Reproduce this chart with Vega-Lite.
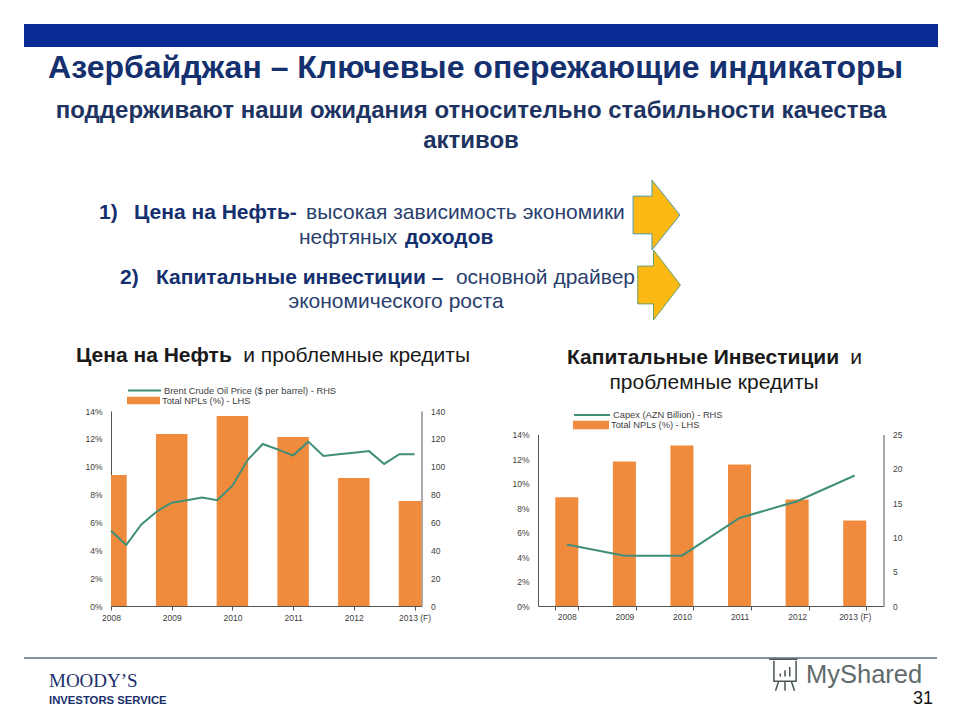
{"$schema":"https://vega.github.io/schema/vega-lite/v6.json","padding":0,"background":"white","bounds":"flush","spacing":0,"config":{"view":{"stroke":null},"font":"Liberation Sans"},"vconcat":[
{"width":960,"height":411,"layer":[
{"data":{"values":[{"label":"bar"}]},"mark":{"type":"rect","color":"#0a2a96"},"encoding":{"x":{"datum":24,"type":"quantitative","scale":{"domain":[0,960]},"axis":null},"x2":{"datum":938},"y":{"datum":24,"type":"quantitative","scale":{"domain":[411,0]},"axis":null},"y2":{"datum":47}}},
{"data":{"values":[{"label":"Азербайджан – Ключевые опережающие индикаторы"}]},"mark":{"type":"text","fontSize":32,"fontWeight":"bold","color":"#14306e"},"encoding":{"x":{"datum":475.5,"type":"quantitative","scale":{"domain":[0,960]},"axis":null},"y":{"datum":68,"type":"quantitative","scale":{"domain":[411,0]},"axis":null},"text":{"field":"label"}}},
{"data":{"values":[{"label":"поддерживают наши ожидания относительно стабильности качества"}]},"mark":{"type":"text","fontSize":24,"fontWeight":"bold","color":"#1d3462"},"encoding":{"x":{"datum":471,"type":"quantitative","scale":{"domain":[0,960]},"axis":null},"y":{"datum":111,"type":"quantitative","scale":{"domain":[411,0]},"axis":null},"text":{"field":"label"}}},
{"data":{"values":[{"label":"активов"}]},"mark":{"type":"text","fontSize":24,"fontWeight":"bold","color":"#1d3462"},"encoding":{"x":{"datum":471,"type":"quantitative","scale":{"domain":[0,960]},"axis":null},"y":{"datum":141,"type":"quantitative","scale":{"domain":[411,0]},"axis":null},"text":{"field":"label"}}},
{"data":{"values":[{"label":"1)"}]},"mark":{"type":"text","fontSize":21,"fontWeight":"bold","color":"#14306e","align":"left"},"encoding":{"x":{"datum":99,"type":"quantitative","scale":{"domain":[0,960]},"axis":null},"y":{"datum":213,"type":"quantitative","scale":{"domain":[411,0]},"axis":null},"text":{"field":"label"}}},
{"data":{"values":[{"label":"Цена на Нефть-"}]},"mark":{"type":"text","fontSize":21,"fontWeight":"bold","color":"#14306e","align":"left"},"encoding":{"x":{"datum":134,"type":"quantitative","scale":{"domain":[0,960]},"axis":null},"y":{"datum":213,"type":"quantitative","scale":{"domain":[411,0]},"axis":null},"text":{"field":"label"}}},
{"data":{"values":[{"label":"высокая зависимость экономики"}]},"mark":{"type":"text","fontSize":21,"color":"#2a3f6e","align":"left"},"encoding":{"x":{"datum":306,"type":"quantitative","scale":{"domain":[0,960]},"axis":null},"y":{"datum":213,"type":"quantitative","scale":{"domain":[411,0]},"axis":null},"text":{"field":"label"}}},
{"data":{"values":[{"label":"нефтяных"}]},"mark":{"type":"text","fontSize":21,"color":"#2a3f6e","align":"left"},"encoding":{"x":{"datum":299,"type":"quantitative","scale":{"domain":[0,960]},"axis":null},"y":{"datum":238,"type":"quantitative","scale":{"domain":[411,0]},"axis":null},"text":{"field":"label"}}},
{"data":{"values":[{"label":"доходов"}]},"mark":{"type":"text","fontSize":21,"fontWeight":"bold","color":"#14306e","align":"left"},"encoding":{"x":{"datum":405,"type":"quantitative","scale":{"domain":[0,960]},"axis":null},"y":{"datum":238,"type":"quantitative","scale":{"domain":[411,0]},"axis":null},"text":{"field":"label"}}},
{"data":{"values":[{"label":"2)"}]},"mark":{"type":"text","fontSize":21,"fontWeight":"bold","color":"#14306e","align":"left"},"encoding":{"x":{"datum":120,"type":"quantitative","scale":{"domain":[0,960]},"axis":null},"y":{"datum":278,"type":"quantitative","scale":{"domain":[411,0]},"axis":null},"text":{"field":"label"}}},
{"data":{"values":[{"label":"Капитальные инвестиции –"}]},"mark":{"type":"text","fontSize":21,"fontWeight":"bold","color":"#14306e","align":"left"},"encoding":{"x":{"datum":156,"type":"quantitative","scale":{"domain":[0,960]},"axis":null},"y":{"datum":278,"type":"quantitative","scale":{"domain":[411,0]},"axis":null},"text":{"field":"label"}}},
{"data":{"values":[{"label":"основной драйвер"}]},"mark":{"type":"text","fontSize":21,"color":"#2a3f6e","align":"right"},"encoding":{"x":{"datum":635,"type":"quantitative","scale":{"domain":[0,960]},"axis":null},"y":{"datum":278,"type":"quantitative","scale":{"domain":[411,0]},"axis":null},"text":{"field":"label"}}},
{"data":{"values":[{"label":"экономического роста"}]},"mark":{"type":"text","fontSize":21,"color":"#2a3f6e"},"encoding":{"x":{"datum":396,"type":"quantitative","scale":{"domain":[0,960]},"axis":null},"y":{"datum":302,"type":"quantitative","scale":{"domain":[411,0]},"axis":null},"text":{"field":"label"}}},
{"data":{"values":[{"label":"arrow 1"}]},"mark":{"type":"point","filled":true,"fill":"#fdb913","fillOpacity":1,"stroke":"#4f9db5","strokeWidth":1,"size":4900,"shape":"M-.67,-.54H-.13V-1L.67,0L-.13,1V.54H-.67Z"},"encoding":{"x":{"datum":656.5,"type":"quantitative","scale":{"domain":[0,960]},"axis":null},"y":{"datum":215,"type":"quantitative","scale":{"domain":[411,0]},"axis":null}}},
{"data":{"values":[{"label":"arrow 2"}]},"mark":{"type":"point","filled":true,"fill":"#fdb913","fillOpacity":1,"stroke":"#6aa06a","strokeWidth":1,"size":4900,"shape":"M-.55,-.54H-.1V-1L.67,0L-.1,1V.54H-.55Z"},"encoding":{"x":{"datum":657,"type":"quantitative","scale":{"domain":[0,960]},"axis":null},"y":{"datum":285,"type":"quantitative","scale":{"domain":[411,0]},"axis":null}}},
{"data":{"values":[{"label":"Цена на Нефть"}]},"mark":{"type":"text","fontSize":21,"fontWeight":"bold","color":"#1a1a1a","align":"left"},"encoding":{"x":{"datum":76,"type":"quantitative","scale":{"domain":[0,960]},"axis":null},"y":{"datum":356,"type":"quantitative","scale":{"domain":[411,0]},"axis":null},"text":{"field":"label"}}},
{"data":{"values":[{"label":"и проблемные кредиты"}]},"mark":{"type":"text","fontSize":21,"color":"#1a1a1a","align":"right"},"encoding":{"x":{"datum":470,"type":"quantitative","scale":{"domain":[0,960]},"axis":null},"y":{"datum":356,"type":"quantitative","scale":{"domain":[411,0]},"axis":null},"text":{"field":"label"}}},
{"data":{"values":[{"label":"Капитальные Инвестиции"}]},"mark":{"type":"text","fontSize":21,"fontWeight":"bold","color":"#1a1a1a","align":"left"},"encoding":{"x":{"datum":567,"type":"quantitative","scale":{"domain":[0,960]},"axis":null},"y":{"datum":358,"type":"quantitative","scale":{"domain":[411,0]},"axis":null},"text":{"field":"label"}}},
{"data":{"values":[{"label":"и"}]},"mark":{"type":"text","fontSize":21,"color":"#1a1a1a","align":"right"},"encoding":{"x":{"datum":862,"type":"quantitative","scale":{"domain":[0,960]},"axis":null},"y":{"datum":358,"type":"quantitative","scale":{"domain":[411,0]},"axis":null},"text":{"field":"label"}}},
{"data":{"values":[{"label":"проблемные кредиты"}]},"mark":{"type":"text","fontSize":21,"color":"#1a1a1a"},"encoding":{"x":{"datum":714,"type":"quantitative","scale":{"domain":[0,960]},"axis":null},"y":{"datum":383,"type":"quantitative","scale":{"domain":[411,0]},"axis":null},"text":{"field":"label"}}}
]},
{"bounds":"flush","spacing":0,"hconcat":[
{"width":111,"height":195,"data":{"values":[]},"mark":"text","encoding":{}},
{"width":310.5,"height":195,"layer":[
{"data":{"values":[{"year":2008,"npl":0.094,"series":"Total NPLs (%) - LHS"},{"year":2009,"npl":0.1234,"series":"Total NPLs (%) - LHS"},{"year":2010,"npl":0.1364,"series":"Total NPLs (%) - LHS"},{"year":2011,"npl":0.1213,"series":"Total NPLs (%) - LHS"},{"year":2012,"npl":0.0919,"series":"Total NPLs (%) - LHS"},{"year":2013,"npl":0.0754,"series":"Total NPLs (%) - LHS"}]},
"mark":{"type":"bar","width":31.5,"clip":true},
"encoding":{"x":{"field":"year","type":"quantitative","scale":{"domain":[2008,2013.115],"padding":0},"axis":{"title":null,"grid":false,"values":[2008,2008.25,2008.5,2008.75,2009,2009.25,2009.5,2009.75,2010,2010.25,2010.5,2010.75,2011,2011.25,2011.5,2011.75,2012,2012.25,2012.5,2012.75,2013],"labelExpr":"datum.value==2013?'2013 (F)':(datum.value%1==0?''+datum.value:'')","labelFontSize":8.5,"labelColor":"#404040","labelOverlap":false,"labelPadding":3,"tickSize":4,"tickColor":"#555555","domainColor":"#555555","labelFlush":false}},
"y":{"field":"npl","type":"quantitative","scale":{"domain":[0,0.14]},"axis":{"title":null,"grid":false,"orient":"left","format":".0%","values":[0,0.02,0.04,0.06,0.08,0.1,0.12,0.14],"labelFontSize":8.5,"labelColor":"#404040","labelPadding":9,"ticks":false,"domainColor":"#555555"}},
"fill":{"field":"series","type":"nominal","scale":{"range":["#f08b3e"]},"legend":{"title":null,"orient":"none","legendX":16,"legendY":-27,"padding":0,"symbolType":"M-1,-.23H1V.23H-1Z","symbolSize":1089,"symbolStrokeWidth":0,"labelFontSize":9.3,"labelColor":"#404040","labelOffset":2,"labelLimit":300}}}},
{"data":{"values":[{"year":2008,"oil":54,"series":"Brent Crude Oil Price ($ per barrel) - RHS"},{"year":2008.25,"oil":43.8,"series":"Brent Crude Oil Price ($ per barrel) - RHS"},{"year":2008.5,"oil":58.6,"series":"Brent Crude Oil Price ($ per barrel) - RHS"},{"year":2008.75,"oil":67.7,"series":"Brent Crude Oil Price ($ per barrel) - RHS"},{"year":2009,"oil":74.2,"series":"Brent Crude Oil Price ($ per barrel) - RHS"},{"year":2009.25,"oil":76,"series":"Brent Crude Oil Price ($ per barrel) - RHS"},{"year":2009.5,"oil":77.8,"series":"Brent Crude Oil Price ($ per barrel) - RHS"},{"year":2009.75,"oil":76,"series":"Brent Crude Oil Price ($ per barrel) - RHS"},{"year":2010,"oil":86.4,"series":"Brent Crude Oil Price ($ per barrel) - RHS"},{"year":2010.25,"oil":104.8,"series":"Brent Crude Oil Price ($ per barrel) - RHS"},{"year":2010.5,"oil":116.3,"series":"Brent Crude Oil Price ($ per barrel) - RHS"},{"year":2010.75,"oil":112.4,"series":"Brent Crude Oil Price ($ per barrel) - RHS"},{"year":2011,"oil":108,"series":"Brent Crude Oil Price ($ per barrel) - RHS"},{"year":2011.25,"oil":118,"series":"Brent Crude Oil Price ($ per barrel) - RHS"},{"year":2011.5,"oil":107.7,"series":"Brent Crude Oil Price ($ per barrel) - RHS"},{"year":2011.75,"oil":109,"series":"Brent Crude Oil Price ($ per barrel) - RHS"},{"year":2012,"oil":110,"series":"Brent Crude Oil Price ($ per barrel) - RHS"},{"year":2012.25,"oil":111.2,"series":"Brent Crude Oil Price ($ per barrel) - RHS"},{"year":2012.5,"oil":102,"series":"Brent Crude Oil Price ($ per barrel) - RHS"},{"year":2012.75,"oil":109,"series":"Brent Crude Oil Price ($ per barrel) - RHS"},{"year":2013,"oil":109,"series":"Brent Crude Oil Price ($ per barrel) - RHS"}]},
"mark":{"type":"line","strokeWidth":2},
"encoding":{"x":{"field":"year","type":"quantitative","scale":{"domain":[2008,2013.115],"padding":0}},
"y":{"field":"oil","type":"quantitative","scale":{"domain":[0,140]},"axis":{"title":null,"grid":false,"orient":"right","values":[0,20,40,60,80,100,120,140],"labelFontSize":8.5,"labelColor":"#404040","labelPadding":9,"ticks":false,"domainColor":"#555555"}},
"stroke":{"field":"series","type":"nominal","scale":{"range":["#3f8f78"]},"legend":{"title":null,"orient":"none","legendX":16,"legendY":-38,"padding":0,"symbolType":"stroke","symbolSize":1089,"symbolStrokeWidth":2,"labelFontSize":9.3,"labelColor":"#404040","labelOffset":2,"labelLimit":300}}}}
],"resolve":{"scale":{"y":"independent","fill":"independent","stroke":"independent"}}},
{"width":115.5,"height":195,"data":{"values":[]},"mark":"text","encoding":{}},
{"width":345.5,"height":195,"layer":[
{"data":{"values":[{"year":"2008","npl":0.0888,"series":"Total NPLs (%) - LHS"},{"year":"2009","npl":0.118,"series":"Total NPLs (%) - LHS"},{"year":"2010","npl":0.131,"series":"Total NPLs (%) - LHS"},{"year":"2011","npl":0.1155,"series":"Total NPLs (%) - LHS"},{"year":"2012","npl":0.0869,"series":"Total NPLs (%) - LHS"},{"year":"2013 (F)","npl":0.0698,"series":"Total NPLs (%) - LHS"}]},
"mark":{"type":"bar"},
"encoding":{"x":{"field":"year","type":"ordinal","scale":{"type":"band","paddingInner":0.6,"paddingOuter":0.3},"axis":{"title":null,"grid":false,"labelAngle":0,"tickBand":"extent","labelFontSize":8.5,"labelColor":"#404040","labelPadding":2,"tickSize":4,"tickColor":"#555555","domainColor":"#555555"}},
"y":{"field":"npl","type":"quantitative","scale":{"domain":[0,0.14],"range":[195,23.5]},"axis":{"title":null,"grid":false,"orient":"left","format":".0%","values":[0,0.02,0.04,0.06,0.08,0.1,0.12,0.14],"labelFontSize":8.5,"labelColor":"#404040","labelPadding":9,"ticks":false,"domainColor":"#555555"}},
"fill":{"field":"series","type":"nominal","scale":{"range":["#f08b3e"]},"legend":{"title":null,"orient":"none","legendX":35,"legendY":-4,"padding":0,"symbolType":"M-1,-.23H1V.23H-1Z","symbolSize":1296,"symbolStrokeWidth":0,"labelFontSize":9.3,"labelColor":"#404040","labelOffset":2,"labelLimit":300}}}},
{"data":{"values":[{"year":"2008","capex":8.95,"series":"Capex (AZN Billion) - RHS"},{"year":"2009","capex":7.34,"series":"Capex (AZN Billion) - RHS"},{"year":"2010","capex":7.34,"series":"Capex (AZN Billion) - RHS"},{"year":"2011","capex":12.84,"series":"Capex (AZN Billion) - RHS"},{"year":"2012","capex":15.27,"series":"Capex (AZN Billion) - RHS"},{"year":"2013 (F)","capex":19.02,"series":"Capex (AZN Billion) - RHS"}]},
"mark":{"type":"line","strokeWidth":2},
"encoding":{"x":{"field":"year","type":"ordinal","scale":{"type":"band","paddingInner":0.6,"paddingOuter":0.3}},
"y":{"field":"capex","type":"quantitative","scale":{"domain":[0,25],"range":[195,23.5]},"axis":{"title":null,"grid":false,"orient":"right","values":[0,5,10,15,20,25],"labelFontSize":8.5,"labelColor":"#404040","labelPadding":9,"ticks":false,"domainColor":"#555555"}},
"stroke":{"field":"series","type":"nominal","scale":{"range":["#3f8f78"]},"legend":{"title":null,"orient":"none","legendX":35,"legendY":-15,"padding":0,"symbolType":"stroke","symbolSize":1296,"symbolStrokeWidth":2,"labelFontSize":9.3,"labelColor":"#404040","labelOffset":2,"labelLimit":300}}}}
],"resolve":{"scale":{"y":"independent","fill":"independent","stroke":"independent"}}}
]},
{"width":960,"height":309,"layer":[
{"data":{"values":[{"label":"footer rule"}]},"mark":{"type":"rule","color":"#0b2b3a","strokeWidth":1},"encoding":{"x":{"datum":24,"type":"quantitative","scale":{"domain":[0,960]},"axis":null},"x2":{"datum":937},"y":{"datum":658,"type":"quantitative","scale":{"domain":[720,411]},"axis":null}}},
{"data":{"values":[{"label":"MOODY’S"}]},"mark":{"type":"text","font":"Liberation Serif","fontSize":19,"color":"#1a2f6b","align":"left"},"encoding":{"x":{"datum":49,"type":"quantitative","scale":{"domain":[0,960]},"axis":null},"y":{"datum":681,"type":"quantitative","scale":{"domain":[720,411]},"axis":null},"text":{"field":"label"}}},
{"data":{"values":[{"label":"INVESTORS SERVICE"}]},"mark":{"type":"text","fontSize":11.3,"fontWeight":"bold","color":"#1a2f6b","align":"left"},"encoding":{"x":{"datum":49,"type":"quantitative","scale":{"domain":[0,960]},"axis":null},"y":{"datum":701,"type":"quantitative","scale":{"domain":[720,411]},"axis":null},"text":{"field":"label"}}},
{"data":{"values":[{"label":"MyShared"}]},"mark":{"type":"text","fontSize":25.5,"color":"#5f6b6b","align":"left"},"encoding":{"x":{"datum":806,"type":"quantitative","scale":{"domain":[0,960]},"axis":null},"y":{"datum":675,"type":"quantitative","scale":{"domain":[720,411]},"axis":null},"text":{"field":"label"}}},
{"data":{"values":[{"label":"icon"}]},"mark":{"type":"point","filled":false,"stroke":"#4a5555","strokeWidth":1.5,"opacity":1,"size":1000,"shape":"M-1,-1H.8M-.7,-.9V.4H.7V-.9M-.4,.4L-.6,1M.4,.4L.6,1M0,.4V1M-.3,.1V-.1M0,.1V-.3M.3,.1V-.5"},"encoding":{"x":{"datum":785,"type":"quantitative","scale":{"domain":[0,960]},"axis":null},"y":{"datum":675,"type":"quantitative","scale":{"domain":[720,411]},"axis":null}}},
{"data":{"values":[{"label":"31"}]},"mark":{"type":"text","fontSize":18,"color":"#111111","align":"right"},"encoding":{"x":{"datum":933,"type":"quantitative","scale":{"domain":[0,960]},"axis":null},"y":{"datum":699,"type":"quantitative","scale":{"domain":[720,411]},"axis":null},"text":{"field":"label"}}}
]}
]}
